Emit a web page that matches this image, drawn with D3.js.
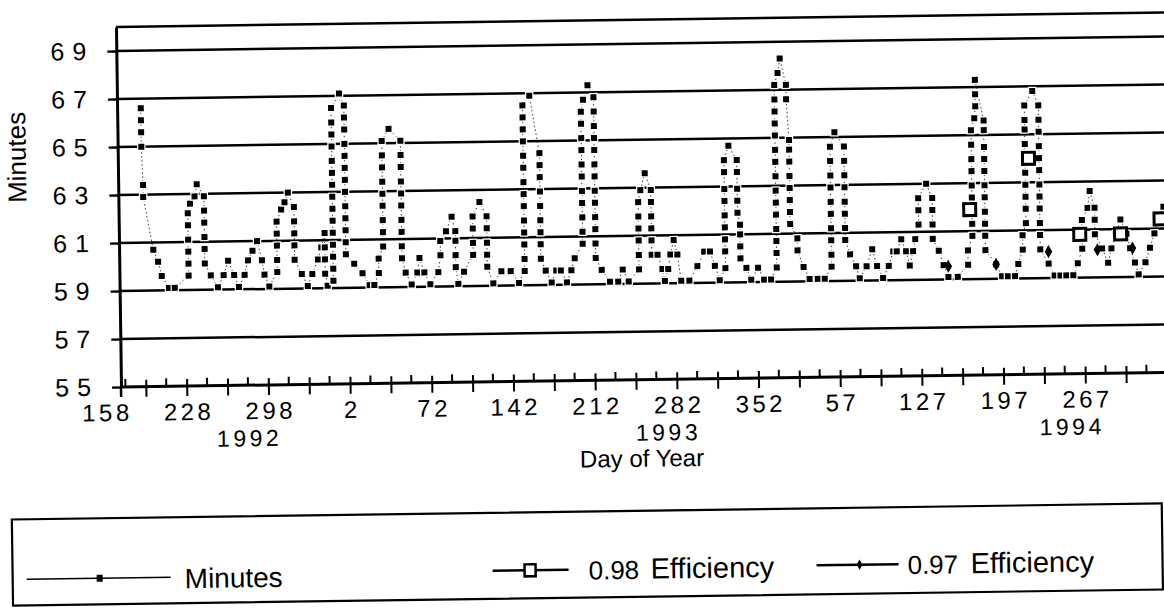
<!DOCTYPE html>
<html>
<head>
<meta charset="utf-8">
<script src="https://cdn.jsdelivr.net/npm/d3@7"></script>
<style>
  body { margin: 0; background: #fff; }
  text { font-family: "Liberation Sans", Arial, Helvetica, sans-serif; fill: #000; }
</style>
</head>
<body>
<svg id="chart" width="1164" height="609"></svg>
<script>
// tick labels (day of year, every 70 days) and the years underneath
const yTicks = [55, 57, 59, 61, 63, 65, 67, 69];
const xTickLabels = ["158", "228", "298", "2", "72", "142", "212", "282", "352", "57", "127", "197", "267"];
const yearLabels = ["1992", "1993", "1994"];
const yearDays = [122, 481, 827];
const seriesNames = ["Minutes", "0.98", "0.97"];

// Minutes, [days after day 158 of 1992, minutes]
const minutes = [
  [34,66.6],[34,66.1],[34,65.6],[34,65.0],[35,63.4],[35,62.9],
  [43,60.7],[47,60.2],[50,59.6],[56,59.1],[61,59.1],
  [73,59.6],[73,60.1],[73,60.6],[73,61.1],[73,61.7],[73,62.2],[75,62.6],[79,62.9],[81,63.4],
  [87,62.9],[87,62.3],[87,61.8],[87,61.2],[87,60.7],[87,60.1],[92,59.6],
  [98,59.1],[103,59.6],[107,60.2],[112,59.6],[116,59.1],[121,59.6],[124,60.2],[128,60.6],[132,61.0],[136,60.2],[138,59.6],[142,59.1],
  [149,59.7],[149,60.2],[149,60.8],[149,61.3],[149,61.8],[153,62.3],[156,62.6],[159,63.0],
  [164,62.4],[164,61.8],[164,61.3],[164,60.8],[164,60.2],[170,59.6],[175,59.1],[179,59.6],[184,60.2],[187,60.7],
  [190,61.3],[190,60.7],[190,60.2],[190,59.6],[192,59.1],
  [197,59.3],[197,59.8],[197,60.3],[197,60.8],[197,61.3],[197,61.8],[197,62.3],[197,62.8],[197,63.3],[197,63.8],[197,64.3],[197,64.9],[197,65.4],[197,65.9],[197,66.5],[204,67.1],
  [208,66.6],[208,66.1],[208,65.6],[208,65.0],[208,64.5],[208,64.0],[208,63.5],[208,63.0],[208,62.4],[208,61.9],[208,61.4],[208,60.9],[208,60.4],
  [215,60.0],[222,59.6],[228,59.1],[232,59.1],[236,59.6],[236,60.2],
  [240,60.7],[240,61.3],[240,61.8],[240,62.4],[240,62.9],[240,63.4],[240,64.0],[240,64.5],[240,65.1],[246,65.6],
  [256,65.1],[256,64.5],[256,64.0],[256,63.4],[256,62.9],[256,62.4],[256,61.8],[256,61.3],[256,60.7],[256,60.2],
  [259,59.6],[264,59.1],[269,59.6],[271,60.2],[275,59.6],[280,59.1],
  [287,59.6],[289,60.3],[289,60.9],[294,61.3],[299,61.9],[302,61.3],[302,60.9],[302,60.3],[302,59.8],[304,59.1],[309,59.6],
  [317,60.3],[317,60.8],[317,61.4],[317,61.9],[323,62.5],[329,61.9],[329,61.4],[329,60.8],[329,60.3],[329,59.8],[334,59.1],
  [341,59.6],[349,59.6],[356,59.1],
  [361,59.6],[361,60.1],[361,60.7],[361,61.2],[361,61.7],[361,62.3],[361,62.8],[361,63.3],[361,63.9],[361,64.4],[361,65.0],[361,65.5],[361,66.0],[361,66.5],[367,66.9],
  [375,64.5],[375,64.0],[375,63.5],[375,62.9],[375,62.3],[375,61.7],[375,61.2],[375,60.7],[375,60.1],
  [379,59.6],[384,59.1],[388,59.6],[392,59.6],[397,59.1],[401,59.6],[404,60.1],
  [411,60.7],[411,61.2],[411,61.8],[411,62.4],[411,62.9],[411,63.5],[411,64.0],[411,64.6],[411,65.1],[411,65.7],[411,66.2],[413,66.7],[417,67.3],
  [422,66.8],[422,66.2],[422,65.6],[422,65.1],[422,64.6],[422,64.0],[422,63.5],[422,62.9],[422,62.4],[422,61.8],[422,61.3],[422,60.7],[422,60.1],
  [427,59.6],[434,59.1],[441,59.1],[445,59.6],[450,59.1],
  [459,59.6],[459,60.2],[459,60.8],[459,61.3],[459,61.8],[459,62.4],[461,62.9],[465,63.6],
  [470,62.9],[470,62.4],[470,61.8],[470,61.3],[470,60.8],[470,60.2],
  [475,60.2],[479,59.6],[481,59.1],[484,59.6],[486,60.2],[489,60.8],[492,60.2],[495,59.1],[502,59.1],[509,59.7],[515,60.3],[520,60.3],[524,59.7],[528,59.1],
  [533,59.6],[533,60.3],[533,60.8],[533,61.3],[533,61.8],[533,62.4],[533,62.9],[533,63.6],[533,64.1],[537,64.7],
  [544,64.1],[544,63.6],[544,62.9],[544,62.4],[544,61.9],[546,61.4],[546,61.0],[546,60.5],[546,60.0],
  [551,59.6],[555,59.1],[561,59.6],[566,59.1],[572,59.1],
  [577,59.6],[577,60.2],[577,60.7],[577,61.2],[577,61.8],[577,62.3],[577,62.8],[577,63.4],[577,64.0],[577,64.5],[577,65.1],[577,65.6],[577,66.1],[577,66.6],[577,67.2],[580,67.7],[582,68.3],
  [587,67.2],[587,66.6],[589,64.9],[589,64.5],[589,64.0],[589,63.4],[589,62.9],[589,62.4],[589,61.9],[589,61.4],[595,60.8],[595,60.3],
  [600,59.6],[605,59.1],[612,59.1],[618,59.1],
  [624,59.6],[624,60.1],[624,60.7],[624,61.2],[624,61.8],[624,62.3],[624,62.9],[624,63.4],[624,64.0],[624,64.6],[628,65.2],
  [636,64.6],[636,64.0],[636,63.4],[636,62.9],[636,62.3],[636,61.8],[636,61.2],[636,60.7],
  [640,60.1],[645,59.6],[648,59.1],[654,59.6],[659,60.3],[663,59.6],[668,59.1],[673,59.6],[677,60.2],[680,60.2],[684,60.7],[688,60.2],[691,59.6],
  [694,60.2],[696,60.7],[699,61.3],[699,61.9],[699,62.4],[706,63.0],
  [711,62.4],[711,61.9],[711,61.3],[711,60.7],[716,60.2],[720,59.6],[724,59.1],[732,59.1],[741,59.6],[741,60.2],
  [745,60.8],[745,61.3],[745,61.8],[745,62.4],[745,62.9],[745,63.5],[745,64.0],[745,64.6],[745,65.2],[748,65.7],[749,66.2],[749,66.7],[749,67.3],
  [756,65.6],[756,65.2],[756,64.5],[756,64.0],[756,63.5],[756,62.9],[756,62.4],[756,61.8],[756,61.3],[756,60.8],[756,60.2],
  [765,59.6],[770,59.1],[775,59.1],[781,59.1],
  [784,59.6],[788,60.2],[788,60.8],[791,61.3],[791,61.9],[791,62.4],[791,62.9],[791,63.4],[791,64.0],[791,64.6],[791,65.2],[791,65.6],[791,66.2],[798,66.8],
  [803,66.2],[803,65.6],[803,65.1],[803,64.5],[803,64.0],[803,63.5],[803,62.9],[803,62.4],[803,61.9],[803,61.3],[803,60.8],[803,60.2],
  [810,59.6],[815,59.1],[820,59.1],[825,59.1],[831,59.1],
  [835,59.6],[839,60.2],[839,60.8],[839,61.4],[844,61.9],[846,62.6],[850,61.9],[850,61.4],[850,60.8],[856,60.2],[861,59.6],
  [864,60.2],[868,60.8],[872,61.4],[877,60.8],[880,60.2],[884,59.6],[887,59.1],[893,59.6],[897,60.2],[901,60.8],[904,61.4],[909,61.9]
];

// 0.98 Efficiency (hollow squares) and 0.97 Efficiency (diamonds)
const eff98 = [[743,61.9],[794,64.0],[837,60.8],[872,60.8],[906,61.4]];
const eff97 = [[724,59.55],[765,59.6],[810,60.1],[852,60.15],[882,60.2]];

const svg = d3.select("#chart");

const x = d3.scaleLinear().domain([0, 930]).range([105, 105 + 930 * 1.167]);
const y = d3.scaleLinear().domain([55, 70]).range([387, 387 - 15 * 24]);
const left = 121;          // where the value axis stands
const right = x(930);

// the scanned original is slightly tilted
const g = svg.append("g").attr("transform", "rotate(-0.8,121,387)");

// gridlines + top border
g.append("g")
  .selectAll("line")
  .data(yTicks.filter(d => d > 55).concat([70]))
  .join("line")
  .attr("x1", left).attr("x2", right)
  .attr("y1", d => y(d)).attr("y2", d => y(d))
  .attr("stroke", "#000")
  .attr("stroke-width", 2.5);

// y axis (runs a little below the x axis, as in the original)
const yAxis = g.append("g")
  .attr("transform", `translate(${left},0)`)
  .call(d3.axisLeft(y).tickValues(yTicks).tickSize(9).tickSizeOuter(0).tickPadding(13).tickFormat(d3.format("d")));
yAxis.select(".domain").attr("stroke-width", 3);
yAxis.selectAll(".tick line").attr("stroke-width", 2.4);
yAxis.selectAll("text")
  .attr("font-family", null)
  .style("font-size", "25px")
  .style("letter-spacing", "8px");
yAxis.append("line")
  .attr("x1", 0).attr("x2", 0)
  .attr("y1", y(55)).attr("y2", y(55) + 10)
  .attr("stroke", "#000").attr("stroke-width", 2.5);

// x axis line
g.append("line")
  .attr("x1", left).attr("x2", right)
  .attr("y1", y(55)).attr("y2", y(55))
  .attr("stroke", "#000").attr("stroke-width", 3);

// crossing ticks every 35 days
const xTicks = g.append("g")
  .attr("transform", `translate(0,${y(55)})`)
  .call(d3.axisBottom(x).tickValues(d3.range(35, 930, 35)).tickSize(10).tickFormat(""));
xTicks.select(".domain").remove();
xTicks.selectAll(".tick line").attr("y1", -7).attr("stroke-width", 2);

// small ticks in between
xTicks.append("g")
  .selectAll("line")
  .data(d3.range(17.5, 930, 35))
  .join("line")
  .attr("x1", d => x(d)).attr("x2", d => x(d))
  .attr("y1", -8).attr("y2", 0)
  .attr("stroke", "#000").attr("stroke-width", 2);

// day labels every 70 days
const xLabels = g.append("g")
  .attr("transform", `translate(0,${y(55)})`)
  .call(d3.axisBottom(x)
    .tickValues(xTickLabels.map((d, i) => i * 70))
    .tickSize(0)
    .tickFormat((d, i) => xTickLabels[i]));
xLabels.select(".domain").remove();
xLabels.selectAll("text")
  .attr("font-family", null)
  .attr("y", 34).attr("dy", 0).attr("dx", 1.5)
  .style("font-size", "24px")
  .style("letter-spacing", "3.5px");

// year labels
g.append("g")
  .selectAll("text")
  .data(yearLabels)
  .join("text")
  .attr("x", (d, i) => x(yearDays[i]) + 1.5)
  .attr("y", 448)
  .attr("text-anchor", "middle")
  .style("font-size", "23px")
  .style("letter-spacing", "3.5px")
  .text(d => d);

// axis titles
g.append("text")
  .attr("x", 641).attr("y", 474)
  .attr("text-anchor", "middle")
  .style("font-size", "24px")
  .text("Day of Year");

g.append("text")
  .attr("transform", "translate(29,156) rotate(-90)")
  .attr("text-anchor", "middle")
  .style("font-size", "26px")
  .text("Minutes");

// Minutes line (thin, broken up like the scan)
const line = d3.line().x(d => x(d[0])).y(d => y(d[1]));
g.append("path")
  .datum(minutes)
  .attr("d", line)
  .attr("fill", "none")
  .attr("stroke", "#222")
  .attr("stroke-width", 0.9)
  .attr("stroke-dasharray", "1.5 2.5");

// Minutes markers
g.append("g")
  .selectAll("rect")
  .data(minutes)
  .join("rect")
  .attr("x", d => x(d[0]) - 3)
  .attr("y", d => y(d[1]) - 3)
  .attr("width", 6).attr("height", 6)
  .attr("fill", "#000")
  .attr("stroke", "#fff")
  .attr("stroke-width", 2.5)
  .style("paint-order", "stroke");

// 0.97 diamonds
g.append("g")
  .selectAll("path")
  .data(eff97)
  .join("path")
  .attr("transform", d => `translate(${x(d[0])},${y(d[1])})`)
  .attr("d", d3.symbol(d3.symbolDiamond, 50))
  .attr("fill", "#000");

// 0.98 hollow squares
g.append("g")
  .selectAll("rect")
  .data(eff98)
  .join("rect")
  .attr("x", d => x(d[0]) - 6)
  .attr("y", d => y(d[1]) - 6)
  .attr("width", 12).attr("height", 12)
  .attr("fill", "#fff")
  .attr("stroke", "#000")
  .attr("stroke-width", 3);

// legend
const lg = g.append("g");
lg.append("rect")
  .attr("x", 10).attr("y", 518)
  .attr("width", 1150).attr("height", 86)
  .attr("fill", "none")
  .attr("stroke", "#000")
  .attr("stroke-width", 2.2);

const ly = 578;
// Minutes
lg.append("line").attr("x1", 24).attr("x2", 168).attr("y1", ly).attr("y2", ly)
  .attr("stroke", "#000").attr("stroke-width", 1.5);
lg.append("rect").attr("x", 94).attr("y", ly - 3.5).attr("width", 6).attr("height", 7).attr("fill", "#000");
lg.append("text").attr("x", 182).attr("y", ly + 11).style("font-size", "28px").text(seriesNames[0]);
// 0.98
lg.append("line").attr("x1", 490).attr("x2", 566).attr("y1", ly - 2).attr("y2", ly - 2)
  .attr("stroke", "#000").attr("stroke-width", 2.5);
lg.append("rect").attr("x", 522).attr("y", ly - 8).attr("width", 11).attr("height", 12)
  .attr("fill", "#fff").attr("stroke", "#000").attr("stroke-width", 2.5);
lg.append("text").attr("x", 586).attr("y", ly + 8).style("font-size", "26px").text(seriesNames[1]);
lg.append("text").attr("x", 648).attr("y", ly + 8).style("font-size", "29px").text("Efficiency");
// 0.97
lg.append("line").attr("x1", 814).attr("x2", 896).attr("y1", ly - 3).attr("y2", ly - 3)
  .attr("stroke", "#000").attr("stroke-width", 2.5);
lg.append("path").attr("transform", `translate(857,${ly - 3})`)
  .attr("d", d3.symbol(d3.symbolDiamond, 30)).attr("fill", "#000");
lg.append("text").attr("x", 905).attr("y", ly + 7).style("font-size", "26px").text(seriesNames[2]);
lg.append("text").attr("x", 968).attr("y", ly + 7).style("font-size", "29px").text("Efficiency");
</script>
</body>
</html>
